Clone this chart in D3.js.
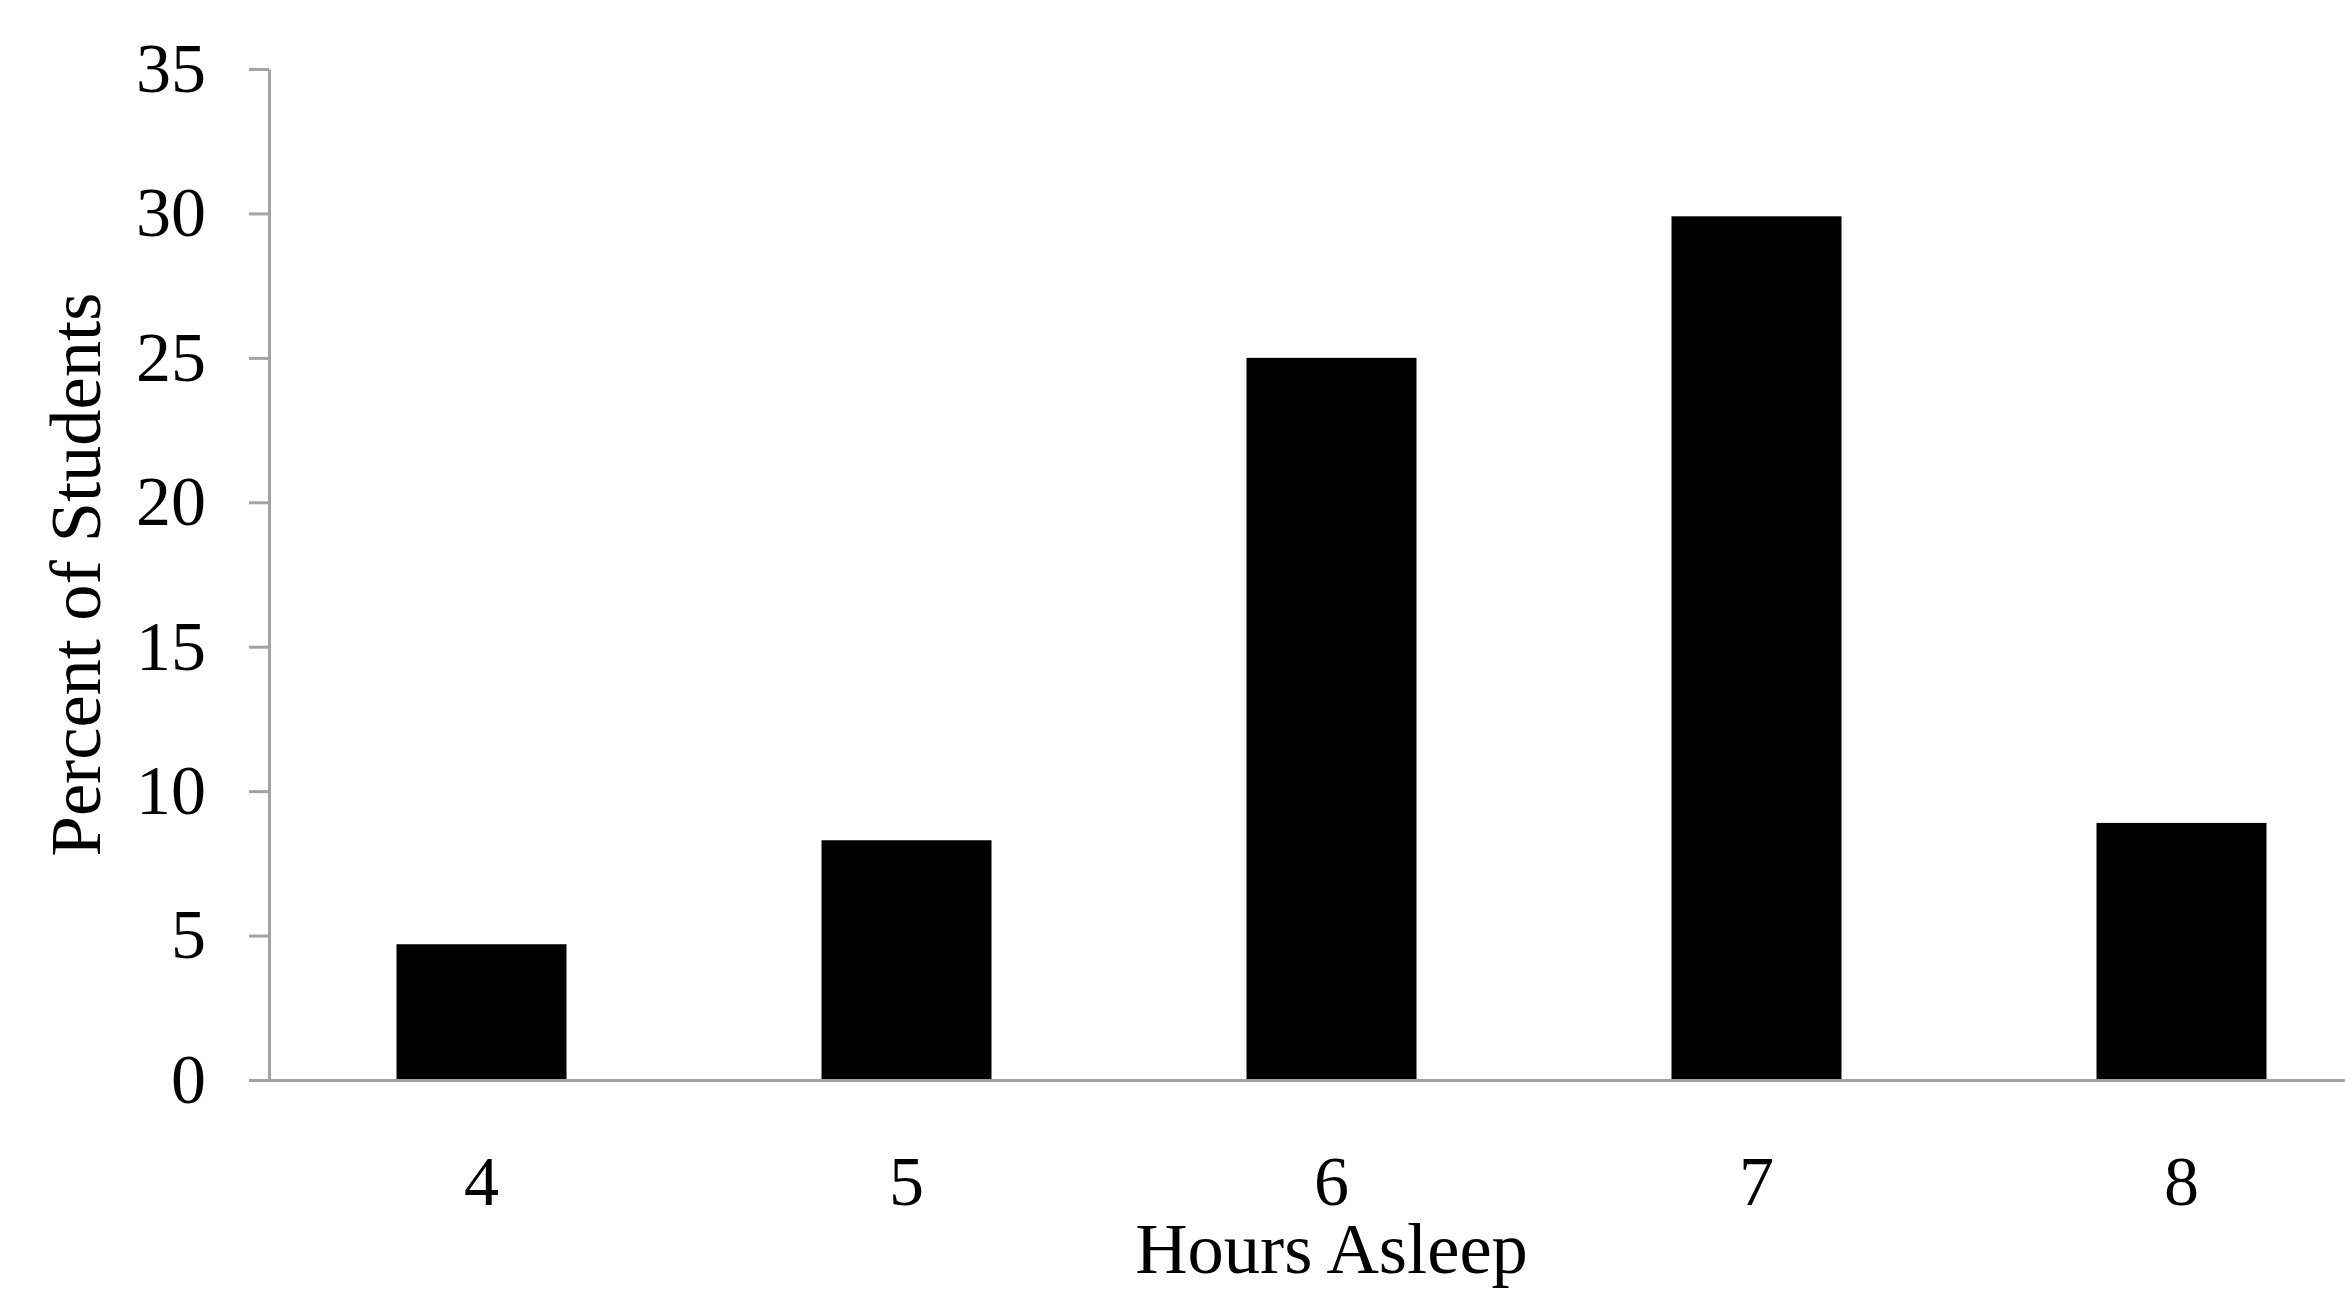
<!DOCTYPE html>
<html>
<head>
<meta charset="utf-8">
<script src="https://cdn.jsdelivr.net/npm/d3@7"></script>
<style>
  html, body { margin: 0; padding: 0; background: #fff; overflow: hidden; }
  svg { display: block; }
</style>
</head>
<body>
<script>
const categories = ["4", "5", "6", "7", "8"];
const values = [4.7, 8.3, 25.0, 29.9, 8.9];
const yTicks = [0, 5, 10, 15, 20, 25, 30, 35];
const xTitle = "Hours Asleep";
const yTitle = "Percent of Students";

const W = 2345, H = 1290;
const mLeft = 269, mRight = 2394, mTop = 69, mBottom = 1080;
const font = "'Liberation Serif', 'Times New Roman', serif";
const axisColor = "#a3a3a3";

const svg = d3.select("body").append("svg")
  .attr("width", W).attr("height", H);

const x = d3.scaleBand().domain(categories).range([mLeft, mRight])
  .paddingInner(0.6).paddingOuter(0.3);
const y = d3.scaleLinear().domain([0, 35]).range([mBottom, mTop]);

// bars
svg.append("g").selectAll("rect").data(values).join("rect")
  .attr("x", (d, i) => x(categories[i]))
  .attr("width", x.bandwidth())
  .attr("y", d => y(d))
  .attr("height", d => y(0) - y(d))
  .attr("fill", "#000");

// y axis
const yAxis = svg.append("g").attr("transform", `translate(${mLeft},0)`)
  .call(d3.axisLeft(y).tickValues(yTicks).tickSize(20).tickPadding(43).tickSizeOuter(0));
yAxis.select(".domain").attr("stroke", axisColor).attr("stroke-width", 3);
yAxis.selectAll(".tick line").attr("stroke", axisColor).attr("stroke-width", 3);
yAxis.selectAll(".tick text").attr("font-family", font).attr("font-size", 70).attr("fill", "#000");

// x axis
const xAxis = svg.append("g").attr("transform", `translate(0,${mBottom})`)
  .call(d3.axisBottom(x).tickSize(0).tickPadding(75).tickSizeOuter(0));
xAxis.select(".domain").attr("stroke", axisColor).attr("stroke-width", 3)
  .attr("d", `M${mLeft - 20},0.5H${mRight}`);
xAxis.selectAll(".tick text").attr("font-family", font).attr("font-size", 70).attr("fill", "#000");

// titles
svg.append("text")
  .attr("x", (mLeft + mRight) / 2).attr("y", 1273)
  .attr("text-anchor", "middle")
  .attr("font-family", font).attr("font-size", 72.5).attr("fill", "#000")
  .text(xTitle);

svg.append("text")
  .attr("transform", `translate(100,${(mTop + mBottom) / 2}) rotate(-90)`)
  .attr("text-anchor", "middle")
  .attr("font-family", font).attr("font-size", 72.5).attr("fill", "#000")
  .text(yTitle);
</script>
</body>
</html>
